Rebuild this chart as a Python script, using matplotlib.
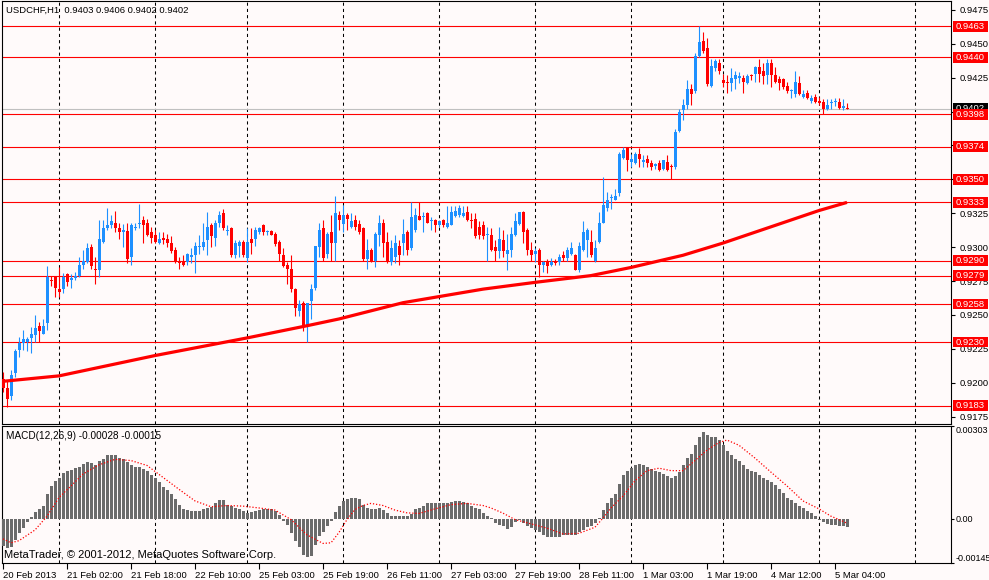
import numpy as np
import matplotlib.pyplot as plt
from matplotlib.patches import Rectangle
from matplotlib.transforms import blended_transform_factory

plt.rcParams["font.family"] = ["Liberation Sans", "DejaVu Sans"]

# USDCHF H1 candles (bar 0 = 20 Feb 2013 10:00)
bar_open = [
    0.9203, 0.9196, 0.9190, 0.9207, 0.9224, 0.9229, 0.9230, 0.9233, 0.9235, 0.9242,
    0.9236, 0.9244, 0.9276, 0.9278, 0.9269, 0.9269, 0.9280, 0.9276, 0.9277, 0.9279,
    0.9287, 0.9289, 0.9300, 0.9284, 0.9283, 0.9304, 0.9314, 0.9316, 0.9318, 0.9314,
    0.9311, 0.9312, 0.9293, 0.9314, 0.9317, 0.9320, 0.9318, 0.9311, 0.9309, 0.9303,
    0.9307, 0.9306, 0.9303, 0.9298, 0.9290, 0.9289, 0.9289, 0.9293, 0.9294, 0.9300,
    0.9300, 0.9305, 0.9316, 0.9307, 0.9318, 0.9325, 0.9312, 0.9314, 0.9294, 0.9301,
    0.9304, 0.9292, 0.9306, 0.9306, 0.9311, 0.9316, 0.9311, 0.9312, 0.9310, 0.9304,
    0.9294, 0.9287, 0.9284, 0.9269, 0.9253, 0.9259, 0.9241, 0.9260, 0.9270, 0.9300,
    0.9314, 0.9295, 0.9311, 0.9303, 0.9324, 0.9317, 0.9324, 0.9315, 0.9320, 0.9317,
    0.9314, 0.9291, 0.9298, 0.9290, 0.9309, 0.9318, 0.9304, 0.9289, 0.9293, 0.9301,
    0.9303, 0.9311, 0.9299, 0.9313, 0.9323, 0.9322, 0.9325, 0.9319, 0.9320, 0.9316,
    0.9320, 0.9315, 0.9316, 0.9323, 0.9324, 0.9323, 0.9326, 0.9320, 0.9321, 0.9315,
    0.9316, 0.9309, 0.9309, 0.9300, 0.9297, 0.9305, 0.9295, 0.9298, 0.9309, 0.9317,
    0.9326, 0.9313, 0.9298, 0.9295, 0.9298, 0.9287, 0.9290, 0.9287, 0.9290, 0.9289,
    0.9294, 0.9292, 0.9295, 0.9294, 0.9283, 0.9298, 0.9305, 0.9304, 0.9290, 0.9304,
    0.9318, 0.9329, 0.9336, 0.9335, 0.9340, 0.9366, 0.9373, 0.9363, 0.9362, 0.9369,
    0.9363, 0.9365, 0.9362, 0.9360, 0.9362, 0.9358, 0.9363, 0.9360, 0.9359, 0.9386,
    0.9401, 0.9405, 0.9417, 0.9415, 0.9441, 0.9452, 0.9447, 0.9419, 0.9432, 0.9436,
    0.9423, 0.9422, 0.9421, 0.9424, 0.9425, 0.9425, 0.9421, 0.9427, 0.9428, 0.9433,
    0.9430, 0.9427, 0.9436, 0.9427, 0.9424, 0.9424, 0.9419, 0.9415, 0.9413, 0.9421,
    0.9411, 0.9414, 0.9408, 0.9411, 0.9408, 0.9407, 0.9402, 0.9406, 0.9407, 0.9407,
    0.9403, 0.9403,
]
bar_high = [
    0.9208, 0.9202, 0.9209, 0.9225, 0.9234, 0.9239, 0.9234, 0.9241, 0.9250, 0.9245,
    0.9247, 0.9286, 0.9279, 0.9279, 0.9285, 0.9281, 0.9281, 0.9280, 0.9282, 0.9293,
    0.9298, 0.9303, 0.9302, 0.9293, 0.9320, 0.9320, 0.9329, 0.9324, 0.9327, 0.9318,
    0.9317, 0.9318, 0.9318, 0.9318, 0.9332, 0.9323, 0.9321, 0.9315, 0.9313, 0.9311,
    0.9311, 0.9310, 0.9308, 0.9300, 0.9293, 0.9294, 0.9296, 0.9299, 0.9304, 0.9309,
    0.9318, 0.9326, 0.9318, 0.9320, 0.9327, 0.9328, 0.9316, 0.9315, 0.9305, 0.9305,
    0.9305, 0.9314, 0.9314, 0.9315, 0.9315, 0.9317, 0.9313, 0.9313, 0.9311, 0.9305,
    0.9299, 0.9289, 0.9294, 0.9270, 0.9261, 0.9260, 0.9259, 0.9273, 0.9301, 0.9318,
    0.9320, 0.9311, 0.9324, 0.9338, 0.9327, 0.9331, 0.9325, 0.9325, 0.9324, 0.9320,
    0.9315, 0.9306, 0.9299, 0.9311, 0.9324, 0.9321, 0.9311, 0.9305, 0.9309, 0.9305,
    0.9321, 0.9313, 0.9333, 0.9329, 0.9333, 0.9326, 0.9326, 0.9322, 0.9321, 0.9320,
    0.9321, 0.9330, 0.9330, 0.9330, 0.9331, 0.9330, 0.9330, 0.9325, 0.9325, 0.9319,
    0.9319, 0.9315, 0.9314, 0.9305, 0.9315, 0.9313, 0.9310, 0.9315, 0.9325, 0.9326,
    0.9327, 0.9314, 0.9304, 0.9299, 0.9299, 0.9290, 0.9291, 0.9292, 0.9291, 0.9295,
    0.9297, 0.9300, 0.9304, 0.9295, 0.9304, 0.9319, 0.9314, 0.9313, 0.9305, 0.9326,
    0.9352, 0.9341, 0.9339, 0.9343, 0.9370, 0.9374, 0.9374, 0.9369, 0.9370, 0.9373,
    0.9368, 0.9368, 0.9364, 0.9362, 0.9364, 0.9364, 0.9368, 0.9361, 0.9387, 0.9402,
    0.9409, 0.9423, 0.9420, 0.9443, 0.9463, 0.9459, 0.9454, 0.9439, 0.9439, 0.9439,
    0.9428, 0.9427, 0.9432, 0.9430, 0.9429, 0.9427, 0.9428, 0.9428, 0.9434, 0.9439,
    0.9436, 0.9439, 0.9439, 0.9433, 0.9426, 0.9425, 0.9422, 0.9417, 0.9430, 0.9426,
    0.9416, 0.9416, 0.9412, 0.9413, 0.9411, 0.9409, 0.9409, 0.9409, 0.9410, 0.9410,
    0.9409, 0.9406,
]
bar_low = [
    0.9193, 0.9182, 0.9187, 0.9204, 0.9219, 0.9224, 0.9223, 0.9222, 0.9230, 0.9230,
    0.9236, 0.9239, 0.9271, 0.9263, 0.9263, 0.9266, 0.9271, 0.9270, 0.9276, 0.9278,
    0.9284, 0.9288, 0.9284, 0.9273, 0.9278, 0.9303, 0.9313, 0.9314, 0.9311, 0.9306,
    0.9300, 0.9288, 0.9287, 0.9313, 0.9314, 0.9303, 0.9308, 0.9303, 0.9303, 0.9302,
    0.9302, 0.9300, 0.9296, 0.9288, 0.9284, 0.9286, 0.9287, 0.9288, 0.9281, 0.9295,
    0.9298, 0.9294, 0.9300, 0.9301, 0.9315, 0.9313, 0.9309, 0.9293, 0.9292, 0.9293,
    0.9293, 0.9289, 0.9295, 0.9301, 0.9310, 0.9309, 0.9309, 0.9309, 0.9301, 0.9290,
    0.9285, 0.9273, 0.9267, 0.9249, 0.9249, 0.9238, 0.9230, 0.9247, 0.9268, 0.9293,
    0.9290, 0.9292, 0.9290, 0.9290, 0.9313, 0.9311, 0.9313, 0.9314, 0.9313, 0.9310,
    0.9290, 0.9284, 0.9289, 0.9285, 0.9301, 0.9293, 0.9288, 0.9287, 0.9288, 0.9287,
    0.9294, 0.9294, 0.9298, 0.9311, 0.9320, 0.9311, 0.9318, 0.9313, 0.9311, 0.9315,
    0.9315, 0.9314, 0.9316, 0.9322, 0.9322, 0.9322, 0.9319, 0.9314, 0.9307, 0.9306,
    0.9306, 0.9290, 0.9297, 0.9290, 0.9292, 0.9293, 0.9283, 0.9293, 0.9308, 0.9316,
    0.9303, 0.9294, 0.9290, 0.9289, 0.9278, 0.9282, 0.9281, 0.9286, 0.9287, 0.9287,
    0.9290, 0.9290, 0.9294, 0.9283, 0.9282, 0.9297, 0.9293, 0.9293, 0.9289, 0.9303,
    0.9318, 0.9327, 0.9328, 0.9335, 0.9338, 0.9365, 0.9356, 0.9359, 0.9361, 0.9359,
    0.9359, 0.9359, 0.9357, 0.9358, 0.9356, 0.9357, 0.9356, 0.9350, 0.9358, 0.9385,
    0.9394, 0.9402, 0.9405, 0.9414, 0.9440, 0.9443, 0.9419, 0.9418, 0.9430, 0.9428,
    0.9418, 0.9414, 0.9415, 0.9417, 0.9421, 0.9414, 0.9420, 0.9423, 0.9422, 0.9422,
    0.9420, 0.9420, 0.9418, 0.9421, 0.9416, 0.9417, 0.9414, 0.9410, 0.9411, 0.9412,
    0.9410, 0.9409, 0.9406, 0.9406, 0.9405, 0.9398, 0.9401, 0.9402, 0.9404, 0.9402,
    0.9401, 0.9402,
]
bar_close = [
    0.9196, 0.9188, 0.9206, 0.9223, 0.9229, 0.9232, 0.9232, 0.9236, 0.9240, 0.9238,
    0.9242, 0.9278, 0.9275, 0.9270, 0.9267, 0.9278, 0.9274, 0.9277, 0.9279, 0.9287,
    0.9290, 0.9299, 0.9286, 0.9283, 0.9306, 0.9314, 0.9316, 0.9319, 0.9314, 0.9311,
    0.9313, 0.9291, 0.9316, 0.9315, 0.9318, 0.9316, 0.9309, 0.9307, 0.9304, 0.9306,
    0.9305, 0.9303, 0.9297, 0.9289, 0.9288, 0.9287, 0.9295, 0.9294, 0.9301, 0.9301,
    0.9304, 0.9315, 0.9308, 0.9318, 0.9324, 0.9314, 0.9313, 0.9294, 0.9303, 0.9304,
    0.9294, 0.9304, 0.9303, 0.9313, 0.9314, 0.9311, 0.9312, 0.9309, 0.9302, 0.9295,
    0.9286, 0.9284, 0.9269, 0.9255, 0.9258, 0.9241, 0.9259, 0.9269, 0.9301, 0.9313,
    0.9292, 0.9310, 0.9303, 0.9325, 0.9320, 0.9324, 0.9321, 0.9319, 0.9315, 0.9311,
    0.9291, 0.9298, 0.9290, 0.9310, 0.9318, 0.9303, 0.9289, 0.9299, 0.9303, 0.9294,
    0.9310, 0.9298, 0.9322, 0.9324, 0.9320, 0.9323, 0.9318, 0.9320, 0.9316, 0.9319,
    0.9316, 0.9318, 0.9326, 0.9327, 0.9329, 0.9325, 0.9320, 0.9319, 0.9308, 0.9309,
    0.9308, 0.9310, 0.9298, 0.9297, 0.9306, 0.9297, 0.9298, 0.9310, 0.9319, 0.9326,
    0.9311, 0.9298, 0.9294, 0.9297, 0.9287, 0.9289, 0.9286, 0.9289, 0.9288, 0.9293,
    0.9292, 0.9298, 0.9299, 0.9283, 0.9301, 0.9311, 0.9313, 0.9294, 0.9299, 0.9318,
    0.9331, 0.9335, 0.9337, 0.9338, 0.9369, 0.9372, 0.9364, 0.9365, 0.9369, 0.9365,
    0.9364, 0.9362, 0.9359, 0.9361, 0.9357, 0.9364, 0.9357, 0.9359, 0.9385, 0.9400,
    0.9405, 0.9417, 0.9413, 0.9441, 0.9451, 0.9445, 0.9420, 0.9434, 0.9437, 0.9430,
    0.9421, 0.9421, 0.9425, 0.9427, 0.9426, 0.9422, 0.9426, 0.9426, 0.9433, 0.9428,
    0.9426, 0.9436, 0.9427, 0.9422, 0.9421, 0.9418, 0.9415, 0.9416, 0.9422, 0.9413,
    0.9413, 0.9410, 0.9410, 0.9407, 0.9406, 0.9402, 0.9405, 0.9407, 0.9408, 0.9403,
    0.9404, 0.9402,
]

# moving average (thick red line), read at a few bars
ma_bar = [0, 14, 38, 61, 76, 84, 100, 120, 133, 147, 157, 170, 180, 192, 204, 211]
ma_value = [0.9201, 0.9205, 0.9220, 0.9233, 0.9242, 0.9247, 0.9259, 0.9269, 0.9274,
            0.9279, 0.9285, 0.9294, 0.9303, 0.9315, 0.9327, 0.9333]

# MACD(12,26,9) histogram, one value per bar
macd_main = [
    -0.00090, -0.00097, -0.00094, -0.00070, -0.00048, -0.00031, -0.00012, 0.00004, 0.00021, 0.00032,
    0.00043, 0.00080, 0.00107, 0.00124, 0.00133, 0.00148, 0.00155, 0.00159, 0.00165, 0.00170,
    0.00179, 0.00185, 0.00182, 0.00174, 0.00187, 0.00196, 0.00207, 0.00209, 0.00209, 0.00198,
    0.00194, 0.00185, 0.00174, 0.00170, 0.00168, 0.00163, 0.00157, 0.00143, 0.00132, 0.00121,
    0.00105, 0.00093, 0.00080, 0.00063, 0.00046, 0.00032, 0.00028, 0.00024, 0.00024, 0.00024,
    0.00030, 0.00035, 0.00039, 0.00050, 0.00060, 0.00060, 0.00046, 0.00041, 0.00035, 0.00030,
    0.00024, 0.00019, 0.00021, 0.00024, 0.00028, 0.00030, 0.00030, 0.00030, 0.00024, 0.00013,
    -0.00009, -0.00020, -0.00048, -0.00072, -0.00092, -0.00120, -0.00125, -0.00123, -0.00086, -0.00056,
    -0.00045, -0.00023, -0.00009, 0.00021, 0.00041, 0.00058, 0.00063, 0.00066, 0.00069, 0.00063,
    0.00046, 0.00035, 0.00030, 0.00032, 0.00035, 0.00028, 0.00017, 0.00010, 0.00010, 0.00008,
    0.00010, 0.00008, 0.00015, 0.00030, 0.00035, 0.00043, 0.00050, 0.00052, 0.00052, 0.00050,
    0.00052, 0.00050, 0.00054, 0.00058, 0.00058, 0.00054, 0.00050, 0.00043, 0.00035, 0.00030,
    0.00019, 0.00008, 0.00001, -0.00014, -0.00020, -0.00025, -0.00034, -0.00028, -0.00012, -0.00005,
    -0.00014, -0.00023, -0.00031, -0.00037, -0.00042, -0.00053, -0.00059, -0.00061, -0.00061, -0.00059,
    -0.00053, -0.00053, -0.00053, -0.00053, -0.00045, -0.00037, -0.00028, -0.00023, -0.00014, 0.00002,
    0.00027, 0.00052, 0.00066, 0.00080, 0.00113, 0.00143, 0.00157, 0.00166, 0.00176, 0.00179,
    0.00176, 0.00168, 0.00163, 0.00157, 0.00152, 0.00146, 0.00138, 0.00132, 0.00138, 0.00152,
    0.00174, 0.00198, 0.00213, 0.00242, 0.00268, 0.00282, 0.00273, 0.00268, 0.00268, 0.00257,
    0.00240, 0.00220, 0.00207, 0.00196, 0.00187, 0.00174, 0.00163, 0.00157, 0.00152, 0.00143,
    0.00132, 0.00127, 0.00121, 0.00110, 0.00096, 0.00083, 0.00069, 0.00061, 0.00052, 0.00043,
    0.00035, 0.00024, 0.00017, 0.00008, -0.00003, -0.00012, -0.00017, -0.00020, -0.00020, -0.00023,
    -0.00025, -0.00028,
]
# signal line (red dotted), read at a few bars
signal_bar = [0, 2, 4, 8, 11, 14, 17, 20, 24, 28, 32, 36, 40, 44, 48, 52, 56, 60, 64, 68,
              72, 76, 80, 82, 84, 86, 88, 90, 92, 95, 98, 101, 104, 108, 112, 116, 120, 122,
              125, 128, 132, 136, 140, 144, 148, 150, 152, 155, 158, 161, 164, 167, 170, 173,
              176, 179, 181, 184, 188, 192, 196, 200, 204, 207, 209, 211]
signal_value = [-0.00066, -0.00079, -0.00072, -0.00037, 0.00008, 0.00069, 0.00107, 0.00146,
                0.00176, 0.00194, 0.00190, 0.00174, 0.00135, 0.00096, 0.00058, 0.00039, 0.00043,
                0.00041, 0.00035, 0.00028, -0.00003, -0.00053, -0.00081, -0.00079, -0.00045,
                -0.00003, 0.00030, 0.00043, 0.00050, 0.00043, 0.00028, 0.00019, 0.00017, 0.00032,
                0.00046, 0.00050, 0.00043, 0.00035, 0.00018, -0.00003, -0.00017, -0.00031,
                -0.00050, -0.00048, -0.00028, 0.00002, 0.00035, 0.00074, 0.00124, 0.00157,
                0.00165, 0.00157, 0.00157, 0.00190, 0.00224, 0.00249, 0.00257, 0.00240, 0.00198,
                0.00152, 0.00107, 0.00058, 0.00032, 0.00008, -0.00003, -0.00015]

level_prices = [0.9463, 0.9440, 0.9398, 0.9374, 0.9350, 0.9333,
                0.9290, 0.9279, 0.9258, 0.9230, 0.9183]
bid_price = 0.9402
price_ticks = [0.9175, 0.9200, 0.9225, 0.9250, 0.9275, 0.9300, 0.9325,
               0.9350, 0.9375, 0.9400, 0.9425, 0.9450, 0.9475]
# labels fully covered by the level boxes are left blank
hidden_ticks = [0.9350, 0.9375, 0.9400]
macd_ticks = [-0.00145, 0.0, 0.00303]
macd_tick_labels = ["-0.00145", "0.00", "0.00303"]
time_bar = [0, 16, 32, 48, 64, 80, 96, 112, 128, 144, 160, 176, 192, 208]
time_labels = ["20 Feb 2013", "21 Feb 02:00", "21 Feb 18:00", "22 Feb 10:00",
               "25 Feb 03:00", "25 Feb 19:00", "26 Feb 11:00", "27 Feb 03:00",
               "27 Feb 19:00", "28 Feb 11:00", "1 Mar 03:00", "1 Mar 19:00",
               "4 Mar 12:00", "5 Mar 04:00"]
day_grid_bar = [14, 38, 61, 85, 109, 133, 157, 180, 204, 228]

BG = "#fffafa"
BULL = "#1e90ff"
BEAR = "#ff0000"
FS = 6.8

W, H = 989, 580
fig = plt.figure(figsize=(W / 100, H / 100), dpi=100, facecolor=BG)
ax = fig.add_axes([2 / W, 1 - 424 / H, 949 / W, 423 / H], facecolor=BG)
ax2 = fig.add_axes([2 / W, 1 - 563 / H, 949 / W, 137 / H], facecolor=BG)

# ---- price panel ----
o = np.array(bar_open)
hi = np.array(bar_high)
lo = np.array(bar_low)
c = np.array(bar_close)
x = np.arange(len(o))
cols = np.where(c >= o, BULL, BEAR)

for p in level_prices:
    ax.axhline(p, color="red", lw=0.8, zorder=2)
ax.axhline(bid_price, color="#c0c0c0", lw=0.8, zorder=2)

ax.vlines(x, lo, hi, colors=cols, linewidth=0.8, zorder=3)
body_bottom = np.minimum(o, c)
body_height = np.maximum(np.abs(c - o), 0.00006)
ax.bar(x, body_height, bottom=body_bottom, width=0.75, color=cols, linewidth=0, zorder=4)

ax.plot(ma_bar, ma_value, color="red", lw=2.3, zorder=5, solid_capstyle="butt")

for a in (ax, ax2):
    a.set_xlim(-0.25, 237)
    for g in day_grid_bar:
        a.axvline(g, color="black", lw=0.75, ls=(0, (3, 3)), zorder=1)
    for s in a.spines.values():
        s.set_color("black")
        s.set_linewidth(0.8)

ax.set_ylim(0.91695, 0.94816)
ax.yaxis.tick_right()
ax.set_yticks(price_ticks)
ax.set_yticklabels(["" if v in hidden_ticks else f"{v:.4f}" for v in price_ticks])
ax.tick_params(axis="y", direction="out", length=3, width=0.8, pad=3, labelsize=FS)
ax.tick_params(axis="x", bottom=False, labelbottom=False)

# price labels on the right scale
trans = blended_transform_factory(ax.transAxes, ax.transData)
box_h = 0.00080
box_x0 = (953 - 2) / 949
box_w = 35 / 949


def price_box(price, face, z):
    ax.add_patch(Rectangle((box_x0, price - box_h / 2), box_w, box_h, transform=trans,
                           facecolor=face, edgecolor="none", clip_on=False, zorder=z))
    ax.text(box_x0 + box_w / 2, price, f"{price:.4f}", transform=trans, ha="center",
            va="center", fontsize=FS, color="white", clip_on=False, zorder=z + 0.5)


price_box(bid_price, "black", 6)
for p in level_prices:
    price_box(p, "red", 7)

# ---- MACD panel ----
ax2.bar(x, macd_main, width=0.75, color="#6b6b6b", linewidth=0, zorder=3)
ax2.plot(signal_bar, signal_value, color="red", lw=0.9, ls=(0, (1, 1.5)), zorder=4)
ax2.set_ylim(-0.00145, 0.00303)
ax2.yaxis.tick_right()
ax2.set_yticks(macd_ticks)
ax2.set_yticklabels(macd_tick_labels)
ax2.tick_params(axis="y", direction="out", length=2, width=0.8, pad=1, labelsize=FS - 0.3)
ylabs = ax2.get_yticklabels()
ylabs[0].set_va("bottom")
ylabs[2].set_va("top")

ax2.set_xticks(time_bar)
ax2.set_xticklabels(time_labels, ha="left")
ax2.tick_params(axis="x", direction="out", length=4, width=0.8, pad=2, labelsize=FS)

fig.text(6 / W, 1 - 10 / H, "USDCHF,H1  0.9403 0.9406 0.9402 0.9402",
         fontsize=FS, ha="left", va="center")
fig.text(6 / W, 1 - 436 / H, "MACD(12,26,9) -0.00028 -0.00015",
         fontsize=FS + 0.4, ha="left", va="center")
fig.text(4 / W, 1 - 555 / H, "MetaTrader, © 2001-2012, MetaQuotes Software Corp.",
         fontsize=FS + 1.2, ha="left", va="center")

fig.savefig("out.png", dpi=100, facecolor=BG)
